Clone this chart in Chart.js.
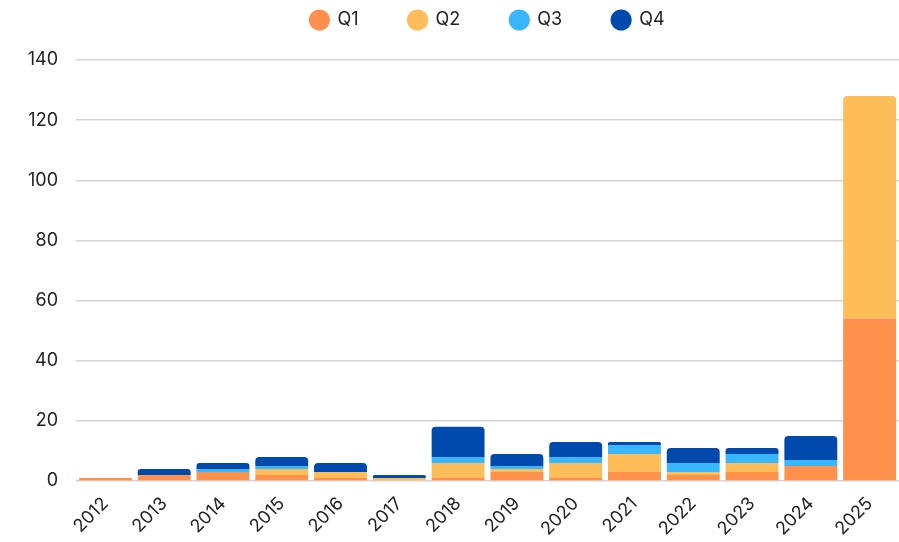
<!DOCTYPE html>
<html>
<head>
<meta charset="utf-8">
<script src="https://cdn.jsdelivr.net/npm/chart.js@4"></script>
<style>
  html, body { margin: 0; padding: 0; background: #fff; }
  #wrap { width: 899px; height: 542px; }
</style>
</head>
<body>
<div id="wrap"><canvas id="quarter-chart"></canvas></div>
<script>
const years = ['2012', '2013', '2014', '2015', '2016', '2017', '2018', '2019', '2020', '2021', '2022', '2023', '2024', '2025']
const q1 = [1, 2, 3, 2, 1, 0, 1, 3, 1, 3, 2, 3, 5, 54]
const q2 = [0, 0, 0, 2, 2, 1, 5, 1, 5, 6, 1, 3, 0, 74]
const q3 = [0, 0, 1, 1, 0, 0, 2, 1, 2, 3, 3, 3, 2, 0]
const q4 = [0, 2, 2, 3, 3, 1, 10, 4, 5, 1, 5, 2, 8, 0]
const yTicks = [0, 20, 40, 60, 80, 100, 120, 140]

const series = [q1, q2, q3, q4]

// round only the top visible segment of each stack
function topRadius(ctx) {
  const i = ctx.dataIndex
  const d = ctx.datasetIndex
  for (let k = series.length - 1; k > d; k--) {
    if (series[k][i] > 0) return 0
  }
  return 4
}

function makeDataset(label, data, color) {
  return {
    label: label,
    data: data,
    backgroundColor: color,
    borderWidth: 0,
    borderRadius: topRadius,
    borderSkipped: 'start',
    barPercentage: 0.9,
    categoryPercentage: 1.0
  }
}

Chart.defaults.font.family = 'Inter, "Noto Sans", sans-serif'
Chart.defaults.color = '#222'

const quarterChartCanvas = document.getElementById('quarter-chart')
let quarterChart = new Chart(quarterChartCanvas, {
  type: 'bar',
  data: {
    labels: years,
    datasets: [
      makeDataset('Q1', q1, '#FF914D'),
      makeDataset('Q2', q2, '#FFBD59'),
      makeDataset('Q3', q3, '#38B6FF'),
      makeDataset('Q4', q4, '#004AAD')
    ]
  },
  options: {
    responsive: true,
    maintainAspectRatio: false,
    animation: false,
    layout: {
      padding: { left: 0, right: 0, top: -39, bottom: 0 }
    },
    scales: {
      x: {
        stacked: true,
        grid: { display: false },
        border: { display: false },
        afterFit: (axis) => { axis.height = 61 },
        ticks: {
          font: { size: 18 },
          maxRotation: 45,
          minRotation: 45,
          padding: 4
        }
      },
      y: {
        stacked: true,
        min: 0,
        max: 140,
        afterBuildTicks: (axis) => {
          axis.ticks = yTicks.map(v => ({ value: v }))
        },
        afterFit: (axis) => { axis.width = 76 },
        grid: {
          color: '#d4d4d4',
          lineWidth: 1.5,
          drawTicks: false
        },
        border: { display: false },
        ticks: {
          font: { size: 18 },
          padding: 18
        }
      }
    },
    plugins: {
      legend: {
        position: 'top',
        fullSize: false,
        labels: {
          usePointStyle: true,
          pointStyle: 'circle',
          boxHeight: 15,
          font: { size: 18 },
          padding: 50
        }
      },
      tooltip: { enabled: false }
    }
  },
  plugins: [{
    id: 'legendGap',
    beforeInit(chart) {
      const fit = chart.legend.fit
      chart.legend.fit = function () {
        fit.bind(chart.legend)()
        this.height = 99
      }
    }
  }]
})
</script>
</body>
</html>
